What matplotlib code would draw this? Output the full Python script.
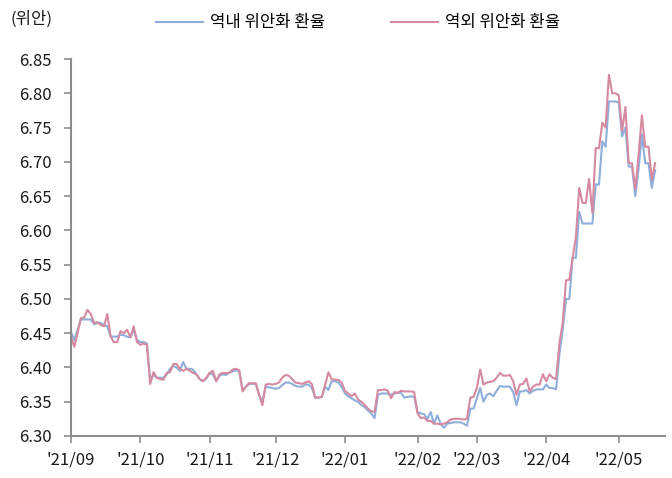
import matplotlib.pyplot as plt
import numpy as np

plt.rcParams['font.family'] = ['Noto Sans CJK KR', 'DejaVu Sans']

# 역내(CNY) / 역외(CNH) 위안화 환율, 거래일 기준
onshore = [
    6.452, 6.440, 6.455, 6.470, 6.470, 6.470, 6.470, 6.463, 6.465, 6.465,
    6.462, 6.460, 6.445, 6.445, 6.445, 6.448, 6.447, 6.445, 6.444, 6.455,
    6.440, 6.437, 6.437, 6.435, 6.380, 6.390, 6.385, 6.385, 6.385, 6.390,
    6.398, 6.402, 6.400, 6.395, 6.408, 6.398, 6.398, 6.397, 6.390, 6.383,
    6.380, 6.384, 6.392, 6.390, 6.380, 6.388, 6.390, 6.389, 6.393, 6.394,
    6.396, 6.394, 6.367, 6.372, 6.376, 6.376, 6.376, 6.360, 6.350, 6.372,
    6.371, 6.370, 6.369, 6.370, 6.374, 6.378, 6.378, 6.376, 6.373, 6.372,
    6.372, 6.375, 6.375, 6.370, 6.356, 6.356, 6.357, 6.372, 6.367, 6.380,
    6.380, 6.378, 6.372, 6.362, 6.358, 6.355, 6.352, 6.350, 6.345, 6.342,
    6.337, 6.333, 6.326, 6.360, 6.362, 6.362, 6.362, 6.360, 6.362, 6.363,
    6.363, 6.356, 6.357, 6.358, 6.357, 6.335, 6.333, 6.332, 6.325, 6.335,
    6.318, 6.330, 6.318, 6.312, 6.318, 6.319, 6.320, 6.320, 6.320, 6.318,
    6.315, 6.340, 6.340, 6.355, 6.370, 6.350, 6.360, 6.362, 6.358, 6.366,
    6.373, 6.372, 6.372, 6.372, 6.364, 6.345, 6.365, 6.365, 6.367, 6.362,
    6.366, 6.368, 6.368, 6.368, 6.375, 6.370, 6.370, 6.368, 6.420, 6.455,
    6.500, 6.500, 6.560, 6.560, 6.627, 6.610, 6.610, 6.610, 6.610, 6.667,
    6.667, 6.730, 6.722, 6.788, 6.788, 6.788, 6.787, 6.737, 6.750, 6.693,
    6.693, 6.650, 6.690, 6.740, 6.698, 6.698, 6.662, 6.688,
]
offshore = [
    6.445, 6.430, 6.450, 6.472, 6.473, 6.484, 6.478, 6.465, 6.466, 6.462,
    6.460, 6.478, 6.445, 6.437, 6.437, 6.453, 6.450, 6.455, 6.444, 6.460,
    6.437, 6.433, 6.435, 6.433, 6.376, 6.393, 6.385, 6.383, 6.382, 6.392,
    6.393, 6.405, 6.405, 6.398, 6.395, 6.398, 6.395, 6.392, 6.390, 6.383,
    6.380, 6.385, 6.392, 6.395, 6.380, 6.390, 6.392, 6.392, 6.392, 6.397,
    6.398, 6.396, 6.365, 6.372, 6.377, 6.377, 6.377, 6.360, 6.345, 6.375,
    6.376, 6.375, 6.376, 6.378, 6.385, 6.389, 6.388, 6.383, 6.378, 6.377,
    6.376, 6.378, 6.380, 6.376, 6.356, 6.356, 6.357, 6.374, 6.393, 6.383,
    6.382, 6.382, 6.378, 6.366, 6.362, 6.358, 6.362, 6.353, 6.350, 6.345,
    6.340, 6.336, 6.335, 6.367, 6.367, 6.368, 6.366, 6.355, 6.364, 6.363,
    6.366, 6.365, 6.365, 6.365, 6.364, 6.333, 6.326, 6.327, 6.322, 6.322,
    6.318, 6.318, 6.317, 6.318, 6.320, 6.324, 6.325, 6.325, 6.325, 6.324,
    6.325, 6.356, 6.357, 6.370, 6.397, 6.375, 6.378, 6.379, 6.380, 6.385,
    6.392, 6.388, 6.388, 6.389, 6.380, 6.360, 6.375, 6.376, 6.384, 6.365,
    6.372, 6.375, 6.375, 6.390, 6.380, 6.390, 6.385, 6.383, 6.435, 6.465,
    6.527, 6.528, 6.560, 6.590, 6.662, 6.640, 6.640, 6.675, 6.625, 6.720,
    6.720, 6.757, 6.750, 6.827, 6.800, 6.800, 6.797, 6.745, 6.780, 6.698,
    6.698, 6.660, 6.710, 6.768, 6.722, 6.722, 6.674, 6.698,
]
month_pos = [0, 21, 42, 62, 83, 105, 123, 144, 166]
month_labels = ["'21/09", "'21/10", "'21/11", "'21/12", "'22/01",
                "'22/02", "'22/03", "'22/04", "'22/05"]

blue = '#8eaedb'
pink = '#d58aa0'
gray = '#8c8c8c'

fig = plt.figure(figsize=(6.72, 4.78), dpi=100)
ax = fig.add_axes([71 / 672, 42 / 478, 594 / 672, 377 / 478])

x = np.arange(len(onshore))
ax.plot(x, onshore, color=blue, lw=1.5, label='역내 위안화 환율')
ax.plot(x, offshore, color=pink, lw=1.5, label='역외 위안화 환율')

ax.set_xlim(0, 180)
ax.set_ylim(6.30, 6.85)
ax.set_yticks(np.arange(6.30, 6.851, 0.05))
ax.set_yticklabels([f'{v:.2f}' for v in np.arange(6.30, 6.851, 0.05)])
ax.set_xticks(month_pos)
ax.set_xticklabels(month_labels)

for s in ['top', 'right']:
    ax.spines[s].set_visible(False)
for s in ['left', 'bottom']:
    ax.spines[s].set_color(gray)
    ax.spines[s].set_linewidth(1.5)
ax.tick_params(axis='both', colors=gray, labelcolor='#1a1a1a', labelsize=12,
               width=1.2, length=5)
ax.tick_params(axis='x', pad=6)
ax.tick_params(axis='y', pad=9)

fig.text(10 / 672, 1 - 19 / 478, '(위안)', fontsize=12, color='#1a1a1a',
         va='center', ha='left')
fig.legend(loc='center', bbox_to_anchor=(358 / 672, 1 - 23 / 478), ncol=2,
           frameon=False, fontsize=12, handlelength=2.8, handletextpad=0.4,
           columnspacing=4.0)

fig.savefig('out.png', dpi=100)
